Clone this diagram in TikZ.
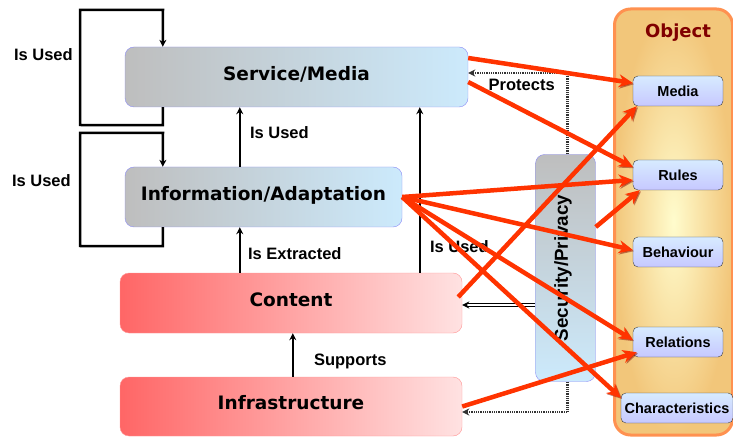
\documentclass[tikz,border=0pt]{standalone}
\usepackage{fontspec}
\setmainfont{Liberation Sans}
\newfontfamily\boxfont{DejaVu Sans}
\usetikzlibrary{arrows.meta}

\definecolor{layergray}{RGB}{190,190,190}
\definecolor{layerblue}{RGB}{204,234,252}
\definecolor{layeredge}{RGB}{140,140,245}
\definecolor{basered}{RGB}{255,102,102}
\definecolor{basepink}{RGB}{255,226,226}
\definecolor{baseedge}{RGB}{255,150,150}
\definecolor{objorange}{RGB}{242,198,122}
\definecolor{objyellow}{RGB}{255,252,205}
\definecolor{objedge}{RGB}{255,145,80}
\definecolor{itemtop}{RGB}{215,235,255}
\definecolor{itembottom}{RGB}{198,200,255}
\definecolor{linkred}{RGB}{255,51,0}
\definecolor{linkshadow}{RGB}{150,30,10}
\definecolor{objtitle}{RGB}{128,0,0}

\begin{document}
\begin{tikzpicture}[x=1pt,y=-1pt]
    \useasboundingbox (0,0) rectangle (733,438);

        \node[draw=objedge, line width=3pt, rounded corners=16pt, inner color=objyellow, outer color=objorange, minimum width=118pt, minimum height=426pt] (obj) at (673.5,222) {};
        \node[text=objtitle, font=\boxfont\bfseries\fontsize{18}{20}\selectfont] (objname) at (678,33) {Object};

        \begin{scope}[every node/.style={draw=black!75, rounded corners=5pt, top color=itemtop, bottom color=itembottom, minimum height=30pt, inner sep=1pt, font=\bfseries\fontsize{14.5}{16}\selectfont}]
            \node[minimum width=90pt] (media) at (678,91) {Media};
            \node[minimum width=90pt] (rules) at (678,175) {Rules};
            \node[minimum width=90pt] (behav) at (678,252) {Behaviour};
            \node[minimum width=90pt] (rel) at (678,342) {Relations};
            \node[minimum width=112pt] (chars) at (677,408) {Characteristics};
        \end{scope}

        \begin{scope}[every node/.style={rounded corners=9pt, minimum height=60pt, text height=14pt, text depth=7.5pt, font=\boxfont\bfseries\fontsize{18.5}{20}\selectfont}]
            \node[draw=layeredge, left color=layergray, right color=layerblue, minimum width=343pt] (serv) at (296.5,77) {Service/Media};
            \node[draw=layeredge, left color=layergray, right color=layerblue, minimum width=277pt] (info) at (263.5,197) {Information/Adaptation};
            \node[draw=baseedge, left color=basered, right color=basepink, minimum width=342pt] (cont) at (291,303) {Content};
            \node[draw=baseedge, left color=basered, right color=basepink, minimum width=342pt, minimum height=59pt] (infra) at (291,406.5) {Infrastructure};
        \end{scope}

        \node[draw=layeredge, rounded corners=9pt, top color=layergray, bottom color=layerblue, minimum width=60pt, minimum height=227pt] (sec) at (565.5,268) {};
        \node[rotate=90, font=\bfseries\fontsize{18.8}{20}\selectfont] (secname) at (563,268) {Security/Privacy};

        % black links
        \begin{scope}[line width=2.5pt, >={Stealth[length=7pt,width=7pt]}, every node/.style={font=\bfseries\fontsize{16.5}{18}\selectfont, inner sep=0pt}]
            \draw[->] ([xshift=38pt]serv.south west) -- ++(0,18) -- (80,125) -- node[left=6pt, pos=0.61] {Is Used} (80,10) -- (163,10) -- ([xshift=38pt]serv.north west);
            \draw[->] ([xshift=38pt]info.south west) -- ++(0,19) -- (80,246) -- node[left=8pt, pos=0.575] {Is Used} (80,133) -- (163,133) -- ([xshift=38pt]info.north west);

            \path [->] ([xshift=115pt]info.north west) edge node[right=9pt, pos=0.57] {Is Used} ([xshift=115pt]serv.south west);
            \path [->] ([xshift=120pt]cont.north west) edge node[right=7pt, pos=0.43] {Is Extracted} ([xshift=115pt]info.south west);
            \path [->] ([xshift=300pt]cont.north west) edge node[right=9pt, pos=0.16] {Is Used} ([xshift=295pt]serv.south west);
            \path [->] ([xshift=173pt]infra.north west) edge node[right=20pt, pos=0.36] {Supports} ([xshift=173pt]cont.south west);

            \draw[->, draw=black!80, dash pattern=on 1pt off 0.8pt] ([xshift=32pt]sec.north west) |- node[below=5pt, pos=0.73] {Protects} ([yshift=4pt]serv.east);
            \draw[->, draw=black!80, dash pattern=on 1pt off 0.8pt] ([xshift=32pt]sec.south west) |- ([yshift=-5.5pt]infra.east);
            \path [->] ([yshift=-37pt]sec.west) edge[double, double distance=1.5pt, line width=1.2pt] ([yshift=-2pt]cont.east);
        \end{scope}

        % red links
        \begin{scope}[>={Stealth[length=14pt,width=13pt]}, every edge/.style={draw=linkred, line width=4.5pt, preaction={draw=linkshadow, opacity=0.55, transform canvas={shift={(1.2pt,-1.2pt)}}}}]
            \path [->] ([yshift=19pt]serv.east) edge ([yshift=8pt]media.west);
            \path [->] ([yshift=-5pt]serv.east) edge ([yshift=8pt]rules.west);
            \path [->] (info.east) edge ([yshift=-5pt]rules.west);
            \path [->] (info.east) edge ([yshift=2pt]behav.west);
            \path [->] (info.east) edge ([yshift=2pt]rel.west);
            \path [->] (info.east) edge ([yshift=-5pt]chars.north west);
            \path [->] ([xshift=-4pt,yshift=6pt]cont.east) edge ([xshift=4pt]media.south west);
            \path [->] ([yshift=41pt]sec.east) edge ([xshift=7pt]rules.south west);
            \path [->] (infra.east) edge ([xshift=4pt,yshift=5pt]rel.south west);
        \end{scope}

\end{tikzpicture}
\end{document}
